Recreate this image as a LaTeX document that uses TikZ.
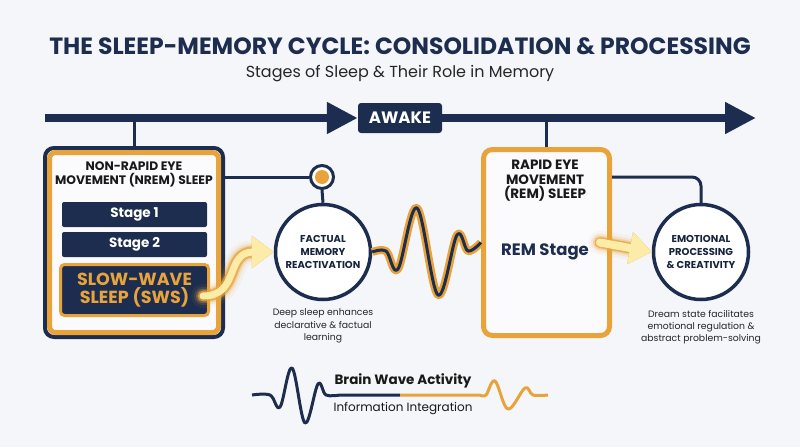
\documentclass[tikz,border=0pt]{standalone}
\usepackage{fontspec}
\setmainfont{Poppins}
\usetikzlibrary{calc,arrows.meta,positioning}

\definecolor{navy}{HTML}{1C2D4F}
\definecolor{amber}{HTML}{E9A33B}
\definecolor{pale}{HTML}{FDEBA8}
\definecolor{bgcol}{HTML}{F4F6F9}

\begin{document}
\begin{tikzpicture}[x=1pt, y=-1pt,
    tl/.style={navy, line width=8, -{Triangle[length=31pt, width=30pt]}},
    stagebox/.style={fill=navy, rounded corners=2, minimum width=145, minimum height=25,
        inner sep=0, text=white, font=\fontsize{13.5}{15}\bfseries},
    bigring/.style={circle, draw=navy, line width=3.5, fill=white, minimum size=95, inner sep=0,
        align=center, text=navy!80!black, font=\fontsize{10}{12.6}\bfseries},
    note/.style={align=center, text=black!85, font=\fontsize{9.3}{12.2}\selectfont},
    link/.style={navy, line width=3},
    glow/.style={amber, line cap=round, -{Triangle[length=22pt, width=31pt]}}]
    % --- 1. Canvas ---
    \fill[bgcol] (0,0) rectangle (800,447);
    \useasboundingbox (0,0) rectangle (800,447);

    % Title
    \node[text=navy, font=\fontsize{23.5}{25}\bfseries] (title) at (400,46)
        {THE SLEEP-MEMORY CYCLE: CONSOLIDATION \& PROCESSING};
    \node[text=black!85, font=\fontsize{16}{18}\selectfont] (subtitle) at (400,74)
        {Stages of Sleep \& Their Role in Memory};

    % --- 2. Timeline ---
    \coordinate (tlstart) at (45,118);
    \coordinate (tlend) at (756,118);
    \node[fill=navy, rounded corners=3, minimum width=84, minimum height=30, inner sep=0,
        text=white, font=\fontsize{16.5}{18}\bfseries] (awake) at (400,118) {AWAKE};
    \draw[tl] (tlstart) -- (awake.west);
    \draw[tl] (awake.east) -- (tlend);

    % --- 3. NREM block ---
    \node[draw=navy, line width=4, rounded corners=9, fill=white!60!bgcol,
        minimum width=178, minimum height=189] (nrem) at (134,242.5) {};
    \node[draw=amber, line width=5, rounded corners=6,
        minimum width=169, minimum height=180] (nremframe) at (nrem.center) {};
    \draw[link] (nrem.north) -- (nrem.north |- awake);
    \node[align=center, text=black!90, font=\fontsize{12.3}{14}\bfseries] (nremtitle) at (134,174)
        {NON-RAPID EYE\\MOVEMENT (NREM) SLEEP};
    \node[stagebox] (stage1) at (134.5,214.5) {Stage 1};
    \node[stagebox] (stage2) at (134.5,244.5) {Stage 2};
    \node[fill=navy, draw=amber, line width=3, rounded corners=4, minimum width=148,
        minimum height=51, inner sep=0, align=center, text=amber,
        font=\fontsize{17.5}{18.5}\bfseries] (sws) at (134.5,290) {SLOW-WAVE\\SLEEP (SWS)};

    % --- 4. Factual memory ---
    \node[bigring] (fmr) at (323,252) {FACTUAL\\MEMORY\\REACTIVATION};
    \node[circle, draw=navy, line width=3, fill=white, minimum size=23, inner sep=0] (knob) at (322,177) {};
    \fill[amber] (knob) circle (7);
    \draw[link] (knob.west) -- (knob.west -| nrem.east);
    \draw[link] (knob.south) -- (fmr.north);
    \node[note] (fmrnote) at (323,326) {Deep sleep enhances\\declarative \& factual\\learning};

    % glowing S arrow out of SWS
    \foreach \w/\o in {24/0.07, 18/0.14, 14/0.3, 11/0.75} {
        \draw[glow, line width=\w, opacity=\o]
            ($(sws.east)+(-7,6)$) .. controls (240,296) and (225,252) .. (fmr.west);
    }
    \draw[glow, pale, line width=7]
        ($(sws.east)+(-7,6)$) .. controls (240,296) and (225,252) .. (fmr.west);

    % --- 5. REM block ---
    \node[draw=amber, line width=5, rounded corners=9, fill=white!60!bgcol,
        minimum width=126, minimum height=186] (rem) at (546.5,242.5) {};
    \draw[link] (rem.north) -- (rem.north |- awake);
    \node[align=center, text=black!90, font=\fontsize{13.5}{14.5}\bfseries] (remtitle) at (545,181)
        {RAPID EYE\\MOVEMENT\\(REM) SLEEP};
    \node[text=navy, font=\fontsize{16.5}{18}\bfseries] (remstage) at (545,252) {REM Stage};

    % wave between the two
    \foreach \c/\w in {amber/8, navy/3} {
        \draw[\c, line width=\w, line join=round] plot[smooth, tension=0.6] coordinates
            {(fmr.east) (386,251) (398,269) (417,208) (438,295) (457,235) (468,251) (rem.west)};
    }

    % --- 6. Emotional processing ---
    \node[bigring] (emo) at (701,252) {EMOTIONAL\\PROCESSING\\\& CREATIVITY};
    \draw[link, rounded corners=9] (rem.east |- knob) -| (emo.north);
    \node[note] (emonote) at (701,327) {Dream state facilitates\\emotional regulation \&\\abstract problem-solving};

    \foreach \w/\o in {24/0.07, 18/0.14, 14/0.3, 11/0.75} {
        \draw[glow, line width=\w, opacity=\o] ([xshift=-12pt]rem.east) -- (emo.west);
    }
    \draw[glow, pale, line width=8] ([xshift=-12pt]rem.east) -- (emo.west);

    % --- 7. Legend wave ---
    \draw[navy, line width=3, line join=round] plot[smooth, tension=0.6] coordinates
        {(252,395) (270,395) (280,407) (292,368) (305,423) (318,384) (326,395) (340,395)}
        -- (400,395);
    \draw[amber, line width=3, line join=round] (400,395) -- (480,395)
        plot[smooth, tension=0.6] coordinates
        {(480,395) (486,395) (495,381) (508,409) (525,388) (533,395) (548,395)};
    \node[text=black!90, font=\fontsize{13.5}{15}\bfseries] (legend) at (403,381) {Brain Wave Activity};
    \node[text=black!90, font=\fontsize{12}{14}\selectfont] (legendsub) at (403,409) {Information Integration};
\end{tikzpicture}
\end{document}
